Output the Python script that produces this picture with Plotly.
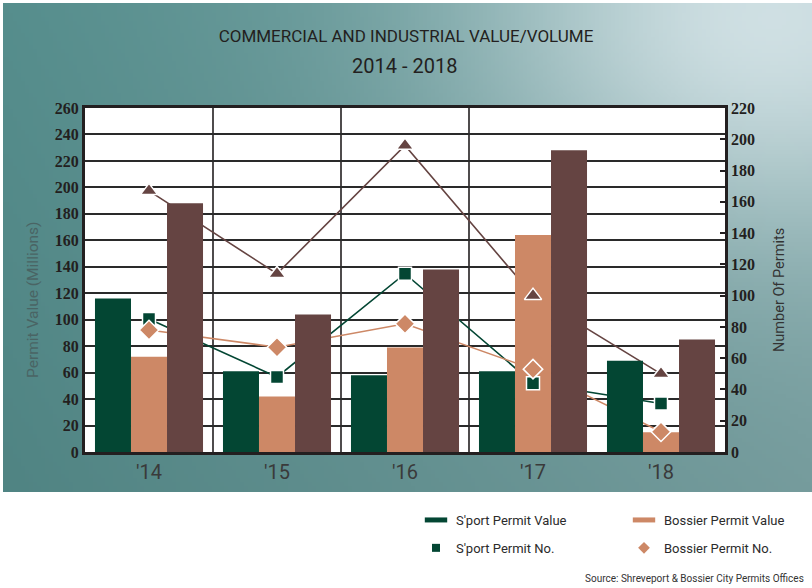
import base64
import struct
import zlib

import numpy as np
import plotly.graph_objects as go

# ---- data -------------------------------------------------------------
years = ["'14", "'15", "'16", "'17", "'18"]

sport_value = [116, 61, 58, 61, 69]        # $ millions
bossier_value = [72, 42, 79, 164, 15]      # $ millions
total_value = [188, 104, 138, 228, 85]     # $ millions

sport_permits = [85, 48, 114, 44, 31]
bossier_permits = [78, 67, 82, 53, 13]
total_permits = [167, 114, 196, 100, 50]

value_ticks = list(range(0, 261, 20))
permit_ticks = list(range(0, 221, 20))

# ---- styling ----------------------------------------------------------
GREEN = "#034633"
TAN = "#cd8866"
BROWN = "#654442"
INK = "#231f20"
SANS = "Roboto, Liberation Sans, sans-serif"
SERIF = "Liberation Serif, 'Times New Roman', DejaVu Serif, serif"

W, H = 812, 588
L, R, T, B = 85, 87, 108, 136
PW, PH = W - L - R, H - T - B


def px_x(x):
    return (x - L) / PW


def px_y(y):
    return (H - B - y) / PH


def teal_backdrop(w, h):
    """Teal wash that brightens toward the upper right corner."""
    xs = np.linspace(0, 1, w)[None, :, None]
    ys = np.linspace(0, 1, h)[:, None, None]
    left = np.array([86, 142, 141], float)
    right = np.array([126, 167, 168], float)
    base = left + (right - left) * xs
    base = base * (1 - 0.07 * ys)
    glow = np.exp(-(((xs - 0.95) / 0.36) ** 2 + ((ys - 0.03) / 0.45) ** 2)) * 0.85
    light = np.array([222, 234, 238], float)
    img = base * (1 - glow) + light * glow
    return np.clip(img, 0, 255).astype(np.uint8)


def png_uri(rgb):
    h, w, _ = rgb.shape
    raw = b"".join(b"\x00" + rgb[i].tobytes() for i in range(h))

    def chunk(tag, data):
        return (struct.pack(">I", len(data)) + tag + data
                + struct.pack(">I", zlib.crc32(tag + data) & 0xFFFFFFFF))

    png = (b"\x89PNG\r\n\x1a\n"
           + chunk(b"IHDR", struct.pack(">IIBBBBB", w, h, 8, 2, 0, 0, 0))
           + chunk(b"IDAT", zlib.compress(raw, 9))
           + chunk(b"IEND", b""))
    return "data:image/png;base64," + base64.b64encode(png).decode()


fig = go.Figure()

# permit-count lines sit behind the bars (primary y, right side)
for vals, col in [(total_permits, BROWN), (sport_permits, GREEN), (bossier_permits, TAN)]:
    fig.add_trace(go.Scatter(x=years, y=vals, mode="lines", yaxis="y",
                             line=dict(color=col, width=1.6),
                             showlegend=False, hoverinfo="skip"))

# value bars (left axis)
for name, vals, col in [("S'port Permit Value", sport_value, GREEN),
                        ("Bossier Permit Value", bossier_value, TAN),
                        ("Total Permit Value", total_value, BROWN)]:
    fig.add_trace(go.Bar(x=years, y=vals, name=name, yaxis="y2",
                         marker=dict(color=col, line=dict(width=0)),
                         showlegend=False))

# permit-count markers drawn over the bars
for name, vals, col, sym, size in [("Total Permit No.", total_permits, BROWN, "triangle-up", 15),
                                   ("S'port Permit No.", sport_permits, GREEN, "square", 13),
                                   ("Bossier Permit No.", bossier_permits, TAN, "diamond", 15)]:
    fig.add_trace(go.Scatter(x=years, y=vals, name=name, mode="markers", yaxis="y3",
                             marker=dict(symbol=sym, size=size, color=col,
                                         line=dict(color="white", width=1.5)),
                             showlegend=False))

# legend entries
for name, sym, size, col, lg in [("S'port Permit Value", "line-ew", 16, GREEN, "legend"),
                                 ("S'port Permit No.", "square", 8, GREEN, "legend"),
                                 ("Bossier Permit Value", "line-ew", 16, TAN, "legend2"),
                                 ("Bossier Permit No.", "diamond", 9, TAN, "legend2")]:
    fig.add_trace(go.Scatter(x=[None], y=[None], name=name, mode="markers",
                             legend=lg, legendgroup=name, yaxis="y3",
                             marker=dict(symbol=sym, size=size, color=col,
                                         line=dict(color=col, width=5 if sym == "line-ew" else 0))))

shapes = [dict(type="rect", xref="paper", yref="paper", x0=0, x1=1, y0=0, y1=1,
               fillcolor="white", line=dict(width=0), layer="below")]
for sep in [0.5, 1.5, 2.5]:
    shapes.append(dict(type="line", xref="x", yref="paper", x0=sep, x1=sep, y0=0, y1=1,
                       line=dict(color=INK, width=1.6), layer="below"))

legend_common = dict(bgcolor="rgba(0,0,0,0)", xanchor="left", yanchor="top",
                     orientation="v", tracegroupgap=8,
                     font=dict(family=SANS, size=13, color="#2b2b2b"))

fig.update_layout(
    width=W, height=H,
    margin=dict(l=L, r=R, t=T, b=B, autoexpand=False),
    paper_bgcolor="white",
    plot_bgcolor="rgba(0,0,0,0)",
    barmode="group", bargap=0.156, bargroupgap=0,
    title=dict(text="COMMERCIAL AND INDUSTRIAL VALUE/VOLUME",
               x=0.5, xref="container", xanchor="center",
               y=1 - 36 / H, yref="container", yanchor="middle",
               font=dict(family=SANS, size=17, color=INK)),
    xaxis=dict(type="category", showgrid=False, showline=True, mirror=True,
               linecolor=INK, linewidth=3, ticks="",
               tickfont=dict(family=SANS, size=20, color="#3a3a3a")),
    yaxis=dict(side="right", range=[0, 220], tickvals=permit_ticks, showgrid=False,
               zeroline=False, showline=True, linecolor=INK, linewidth=2.5,
               ticks="inside", ticklen=5, tickwidth=2, tickcolor=INK,
               tickfont=dict(family=SERIF, size=16, color=INK, weight="bold")),
    yaxis2=dict(overlaying="y", side="left", range=[0, 260], tickvals=value_ticks,
                showgrid=True, gridcolor="#2a2a2a", gridwidth=1.6, zeroline=False,
                showline=True, linecolor=INK, linewidth=3, ticks="",
                tickfont=dict(family=SERIF, size=16, color=INK, weight="bold")),
    yaxis3=dict(overlaying="y", range=[0, 220], visible=False),
    legend=dict(x=px_x(416), y=px_y(505), **legend_common),
    legend2=dict(x=px_x(624), y=px_y(505), **legend_common),
    shapes=shapes,
    images=[dict(source=png_uri(teal_backdrop(203, 122)), xref="paper", yref="paper",
                 x=px_x(3), y=px_y(3), sizex=809 / PW, sizey=489 / PH,
                 xanchor="left", yanchor="top", sizing="stretch", layer="below")],
    annotations=[
        dict(text="2014 - 2018", xref="paper", yref="paper", x=px_x(404), y=px_y(66),
             xanchor="center", yanchor="middle", showarrow=False,
             font=dict(family=SANS, size=20, color=INK)),
        dict(text="Permit Value (Millions)", xref="paper", yref="paper",
             x=px_x(33), y=px_y(300), xanchor="center", yanchor="middle",
             textangle=-90, showarrow=False,
             font=dict(family=SANS, size=15.5, color="#4a6464")),
        dict(text="Number Of Permits", xref="paper", yref="paper",
             x=px_x(779), y=px_y(290), xanchor="center", yanchor="middle",
             textangle=-90, showarrow=False,
             font=dict(family=SANS, size=14.5, color="#333333")),
        dict(text="Source: Shreveport & Bossier City Permits Offices", xref="paper",
             yref="paper", x=px_x(806), y=px_y(578), xanchor="right", yanchor="middle",
             showarrow=False, font=dict(family=SANS, size=10, color="#333333")),
    ],
)

fig.write_html("out.html")
